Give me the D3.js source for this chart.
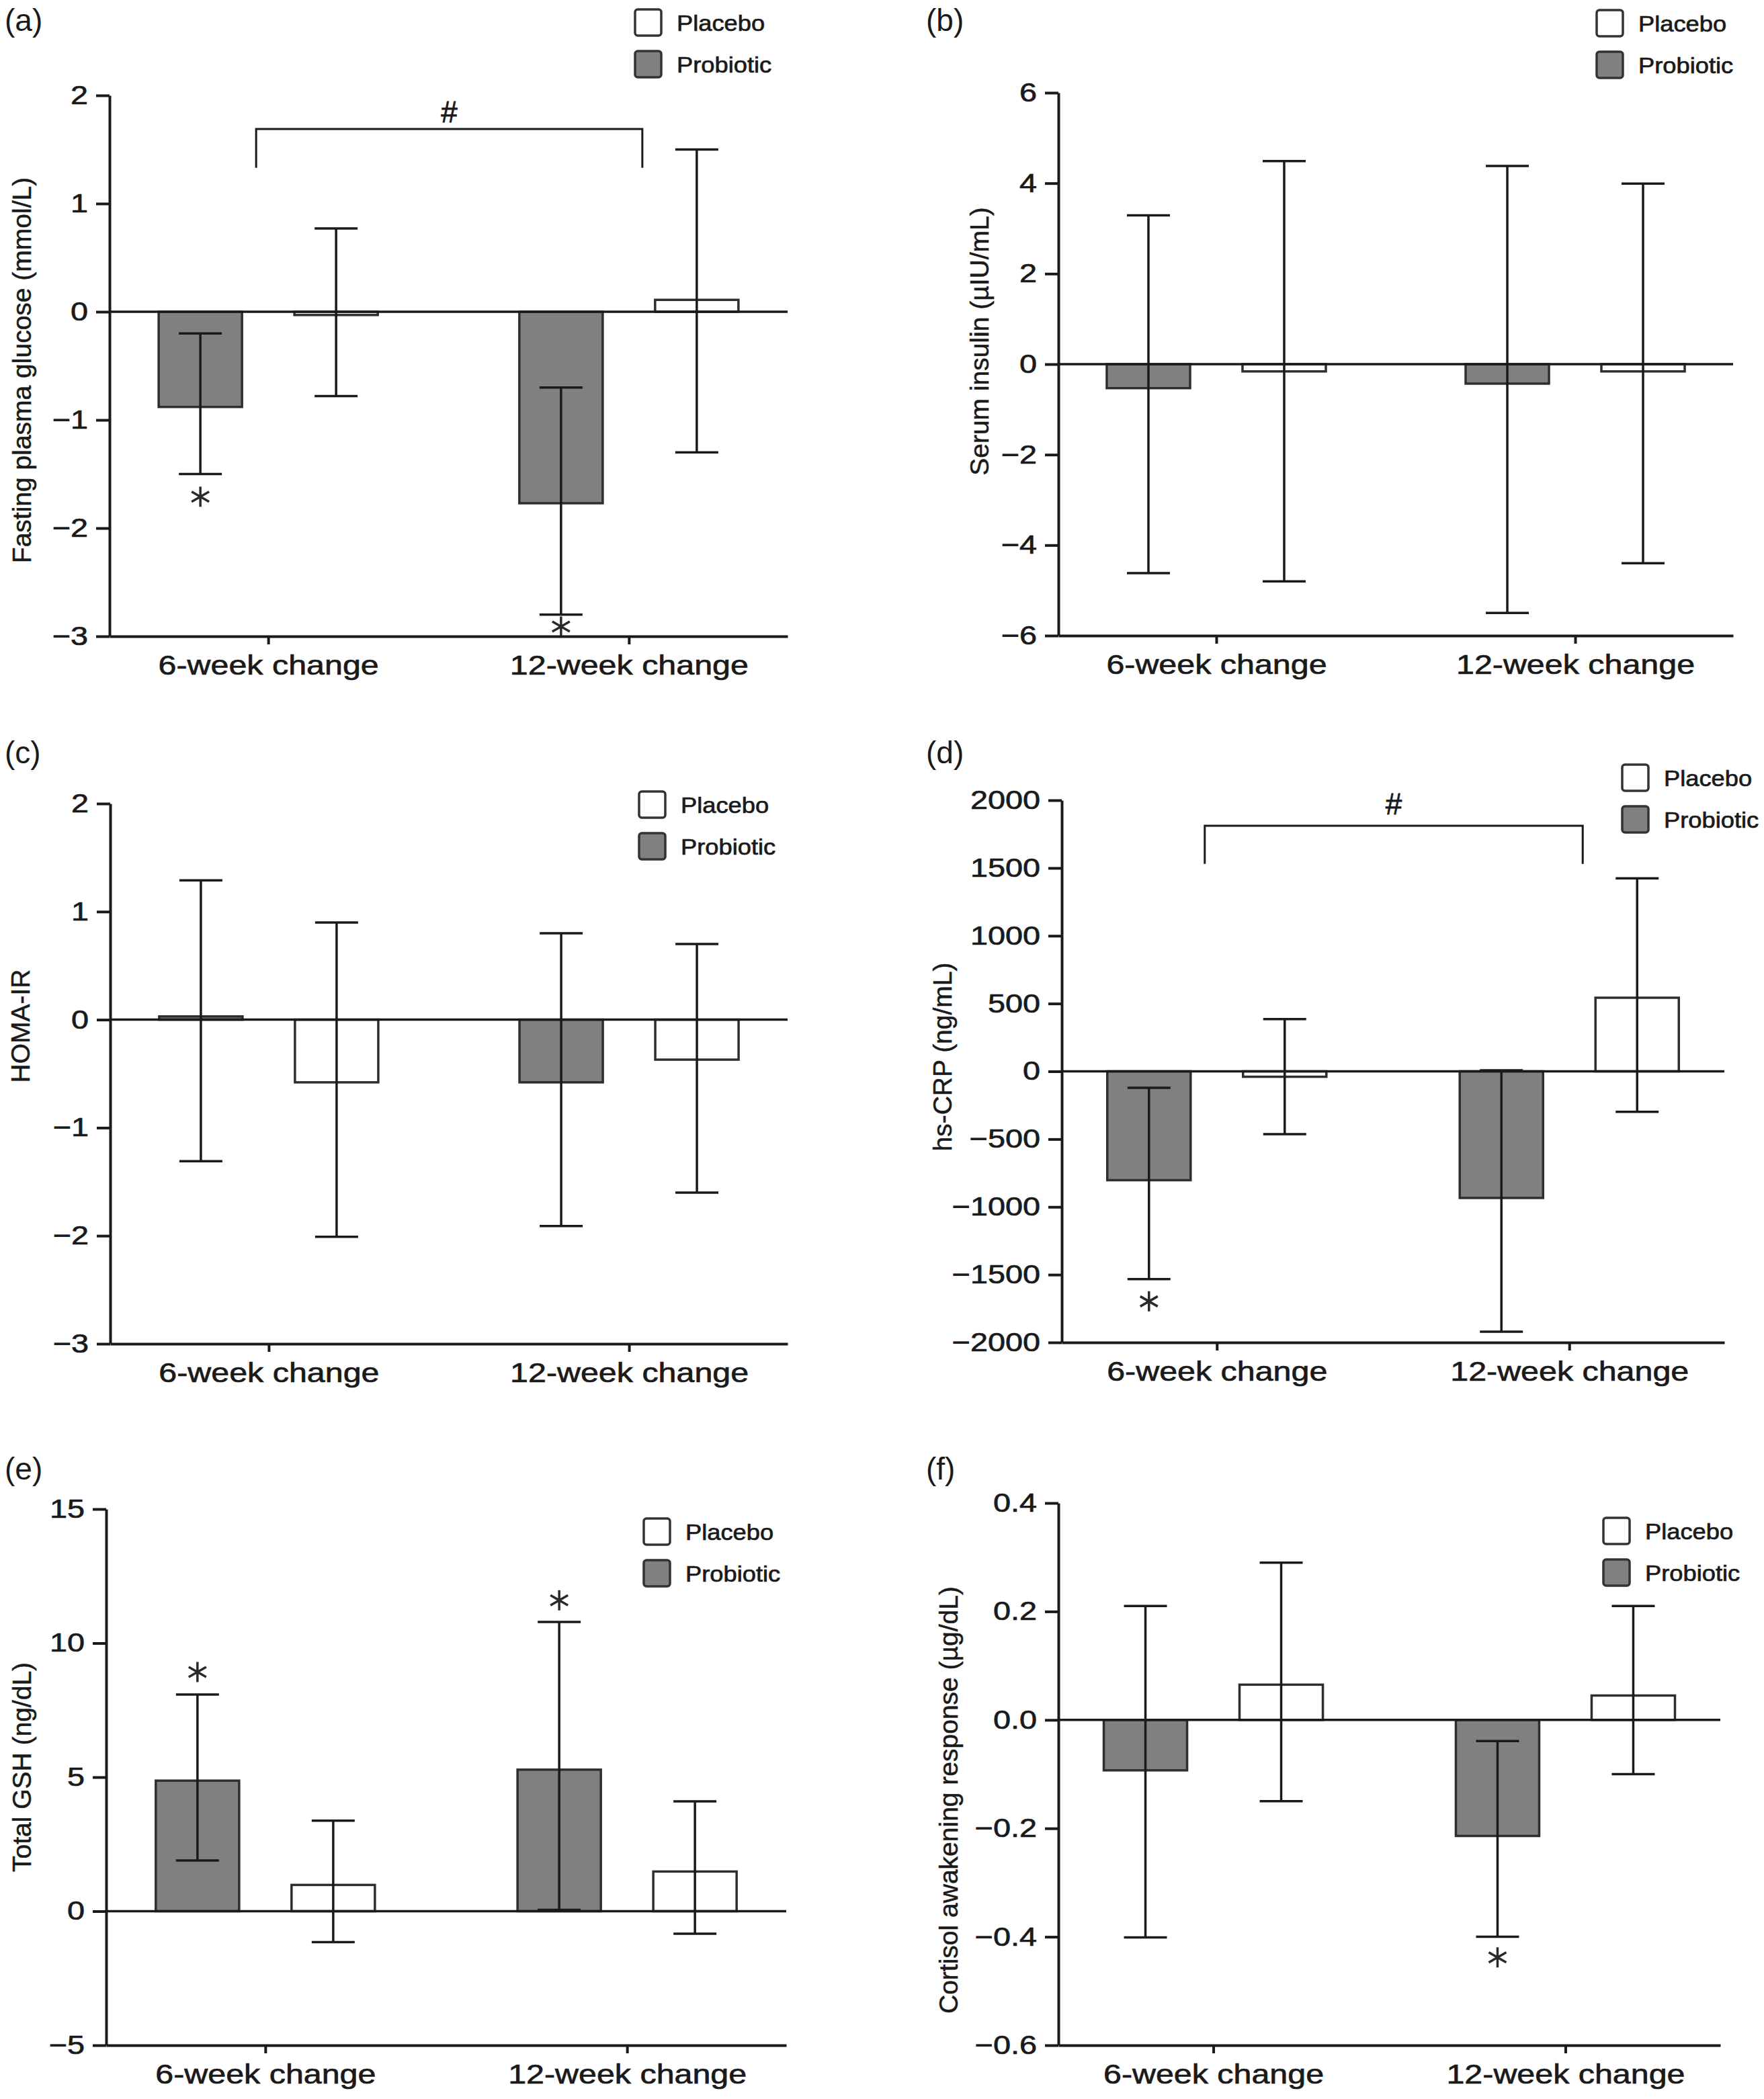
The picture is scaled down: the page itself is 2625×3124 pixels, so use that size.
<!DOCTYPE html>
<html>
<head>
<meta charset="utf-8">
<script src="https://cdn.jsdelivr.net/npm/d3@7"></script>
<style>
body { margin: 0; background: #fff; }
svg text { font-family: "Liberation Sans", Arial, sans-serif; fill: #1a1a1a; }
</style>
</head>
<body>
<svg width="2625" height="3124"></svg>
<script>
// Categories and groups
var categories = ["6-week change", "12-week change"];
var groups = ["Probiotic", "Placebo"];

// Each row: [mean, lower, upper] for 6-week and 12-week change
var glucoseProbiotic = [[-0.88, -1.50, -0.20], [-1.77, -2.80, -0.70]];
var glucosePlacebo   = [[-0.03, -0.78, 0.77], [0.11, -1.30, 1.50]];
var glucoseStars     = [-1.71, -2.91];
var glucoseBracket   = [1.33, 1.69, 1.85]; // foot, top, "#"

var insulinProbiotic = [[-0.53, -4.62, 3.29], [-0.43, -5.50, 4.38]];
var insulinPlacebo   = [[-0.16, -4.80, 4.49], [-0.16, -4.40, 3.99]];

var homaProbiotic = [[0.03, -1.31, 1.29], [-0.58, -1.91, 0.80]];
var homaPlacebo   = [[-0.58, -2.01, 0.90], [-0.37, -1.60, 0.70]];

var crpProbiotic = [[-803, -1533, -122], [-934, -1921, 8]];
var crpPlacebo   = [[-40, -464, 385], [543, -299, 1424]];
var crpStars     = [-1697, null];
var crpBracket   = [1530, 1812, 1970];

var gshProbiotic = [[4.87, 1.89, 8.08], [5.28, 0.05, 10.79]];
var gshPlacebo   = [[0.98, -1.15, 3.38], [1.48, -0.84, 4.10]];
var gshStars     = [8.92, 11.6];

var cortisolProbiotic = [[-0.093, -0.401, 0.21], [-0.214, -0.40, -0.039]];
var cortisolPlacebo   = [[0.065, -0.15, 0.29], [0.045, -0.10, 0.21]];
var cortisolStars     = [null, -0.438];

var svg = d3.select("svg");
var ink = "#1a1a1a";

// Panels: data + where each one sits
var panels = [
	{ tag: "(a)", title: "Fasting plasma glucose (mmol/L)", pro: glucoseProbiotic, pla: glucosePlacebo,
	  stars: glucoseStars, bracket: glucoseBracket, domain: [-3, 2], step: 1, fmt: "d",
	  box: { x0: 163, x1: 1172, y0: 142, y1: 947 }, tagAt: [7, 46], titleAt: [32, 551], legendAt: [945, 14] },
	{ tag: "(b)", title: "Serum insulin (µIU/mL)", pro: insulinProbiotic, pla: insulinPlacebo,
	  domain: [-6, 6], step: 2, fmt: "d",
	  box: { x0: 1575, x1: 2579, y0: 138, y1: 946 }, tagAt: [1378, 46], titleAt: [1457, 508], legendAt: [2376, 15] },
	{ tag: "(c)", title: "HOMA-IR", pro: homaProbiotic, pla: homaPlacebo,
	  domain: [-3, 2], step: 1, fmt: "d",
	  box: { x0: 164, x1: 1172, y0: 1196, y1: 2000 }, tagAt: [7, 1136], titleAt: [30, 1527], legendAt: [951, 1178] },
	{ tag: "(d)", title: "hs-CRP (ng/mL)", pro: crpProbiotic, pla: crpPlacebo,
	  stars: crpStars, bracket: crpBracket, domain: [-2000, 2000], step: 500, fmt: "d",
	  box: { x0: 1580, x1: 2566, y0: 1191, y1: 1998 }, tagAt: [1378, 1136], titleAt: [1402, 1573], legendAt: [2414, 1138] },
	{ tag: "(e)", title: "Total GSH (ng/dL)", pro: gshProbiotic, pla: gshPlacebo,
	  stars: gshStars, domain: [-5, 15], step: 5, fmt: "d",
	  box: { x0: 158, x1: 1170, y0: 2246, y1: 3044 }, tagAt: [7, 2202], titleAt: [32, 2630], legendAt: [958, 2260] },
	{ tag: "(f)", title: "Cortisol awakening response (µg/dL)", pro: cortisolProbiotic, pla: cortisolPlacebo,
	  stars: cortisolStars, domain: [-0.6, 0.4], step: 0.2, fmt: ".1f",
	  box: { x0: 1575, x1: 2560, y0: 2237, y1: 3044 }, tagAt: [1378, 2202], titleAt: [1411, 2679], legendAt: [2386, 2259] }
];

panels.forEach(drawPanel);

// Wide, slightly heavy lettering like the scanned figure
function widen(k) {
	return function (sel) {
		sel.each(function () {
			var len = this.getComputedTextLength();
			d3.select(this).attr("textLength", len * k).attr("lengthAdjust", "spacingAndGlyphs");
		});
		sel.attr("stroke", ink).attr("stroke-width", 0.7);
	};
}

function drawPanel(p) {
	var g = svg.append("g");

	var y = d3.scaleLinear().domain(p.domain).range([p.box.y1, p.box.y0]);
	var x = d3.scalePoint().domain(categories).range([p.box.x0, p.box.x1]).padding(0.44);
	var xg = d3.scaleBand().domain(groups).range([-202, 202]).paddingInner(0.386).paddingOuter(0.193);
	var bw = xg.bandwidth();

	var rows = [];
	categories.forEach(function (c, i) {
		rows.push({ cat: c, grp: "Probiotic", v: p.pro[i], star: p.stars ? p.stars[i] : null });
		rows.push({ cat: c, grp: "Placebo", v: p.pla[i], star: null });
	});
	var cx = (d) => x(d.cat) + xg(d.grp) + bw / 2;

	// Bars
	g.selectAll("rect.bar").data(rows).enter().append("rect")
		.attr("class", "bar")
		.attr("x", (d) => x(d.cat) + xg(d.grp))
		.attr("y", (d) => y(Math.max(0, d.v[0])))
		.attr("width", bw)
		.attr("height", (d) => Math.abs(y(d.v[0]) - y(0)))
		.attr("fill", (d) => d.grp == "Probiotic" ? "#808080" : "#fff")
		.attr("stroke", "#2e2e2e")
		.attr("stroke-width", 3.5);

	// Zero line
	g.append("line")
		.attr("x1", p.box.x0).attr("x2", p.box.x1)
		.attr("y1", y(0)).attr("y2", y(0))
		.attr("stroke", ink).attr("stroke-width", 3.5);

	// Error bars
	var eb = g.selectAll("g.err").data(rows).enter().append("g").attr("class", "err")
		.attr("stroke", ink).attr("stroke-width", 3.5);
	eb.append("line")
		.attr("x1", cx).attr("x2", cx)
		.attr("y1", (d) => y(d.v[1])).attr("y2", (d) => y(d.v[2]));
	[1, 2].forEach(function (k) {
		eb.append("line")
			.attr("x1", (d) => cx(d) - 32).attr("x2", (d) => cx(d) + 32)
			.attr("y1", (d) => y(d.v[k])).attr("y2", (d) => y(d.v[k]));
	});

	// Significance stars
	g.selectAll("path.star").data(rows.filter((d) => d.star != null)).enter().append("path")
		.attr("class", "star")
		.attr("transform", (d) => "translate(" + cx(d) + "," + y(d.star) + ")")
		.attr("d", "M0,-15V15M-13,-7.5L13,7.5M-13,7.5L13,-7.5")
		.attr("stroke", "#2a2a2a").attr("stroke-width", 3.5);

	// Bracket with #
	if (p.bracket) {
		var xl = x(categories[0]) - 18, xr = x(categories[1]) + 20;
		g.append("path")
			.attr("d", "M" + xl + "," + y(p.bracket[0]) + "V" + y(p.bracket[1]) + "H" + xr + "V" + y(p.bracket[0]))
			.attr("fill", "none").attr("stroke", ink).attr("stroke-width", 3);
		g.append("text")
			.attr("x", (xl + xr) / 2).attr("y", y(p.bracket[2]))
			.attr("dy", "0.35em").attr("text-anchor", "middle")
			.attr("font-size", 44)
			.attr("stroke", ink).attr("stroke-width", 0.8)
			.text("#");
	}

	// Y axis
	var ya = g.append("g")
		.attr("transform", "translate(" + p.box.x0 + ",0)")
		.call(d3.axisLeft(y)
			.tickValues(d3.ticks(p.domain[0], p.domain[1], Math.round((p.domain[1] - p.domain[0]) / p.step)))
			.tickFormat(d3.format(p.fmt))
			.tickSize(20).tickSizeOuter(0).tickPadding(12));
	styleAxis(ya);
	ya.selectAll("text").attr("font-size", 39).call(widen(1.2));

	// X axis
	var xa = g.append("g")
		.attr("transform", "translate(0," + p.box.y1 + ")")
		.call(d3.axisBottom(x).tickSize(12).tickSizeOuter(0).tickPadding(16));
	styleAxis(xa);
	xa.selectAll("text").attr("font-size", 41).call(widen(1.18));

	// Axis title
	g.append("text")
		.attr("transform", "translate(" + p.titleAt[0] + "," + p.titleAt[1] + ") rotate(-90)")
		.attr("dy", "0.35em").attr("text-anchor", "middle")
		.attr("font-size", 39)
		.attr("stroke", ink).attr("stroke-width", 0.5)
		.text(p.title);

	// Panel tag
	g.append("text")
		.attr("x", p.tagAt[0]).attr("y", p.tagAt[1])
		.attr("font-size", 46)
		.text(p.tag);

	// Legend
	var lg = g.append("g").attr("transform", "translate(" + p.legendAt[0] + "," + p.legendAt[1] + ")");
	var items = lg.selectAll("g").data(["Placebo", "Probiotic"]).enter().append("g")
		.attr("transform", (d, i) => "translate(0," + i * 62 + ")");
	items.append("rect")
		.attr("width", 39).attr("height", 39).attr("rx", 4)
		.attr("fill", (d) => d == "Probiotic" ? "#808080" : "#fff")
		.attr("stroke", "#333").attr("stroke-width", 3.5);
	items.append("text")
		.attr("x", 62).attr("y", 20).attr("dy", "0.35em")
		.attr("font-size", 33)
		.text((d) => d)
		.call(widen(1.1));
}

function styleAxis(a) {
	a.attr("font-size", null).attr("font-family", null);
	a.select(".domain").attr("stroke", ink).attr("stroke-width", 4);
	a.selectAll(".tick line").attr("stroke", ink).attr("stroke-width", 4);
	a.selectAll(".tick text").attr("fill", ink);
}
</script>
</body>
</html>
